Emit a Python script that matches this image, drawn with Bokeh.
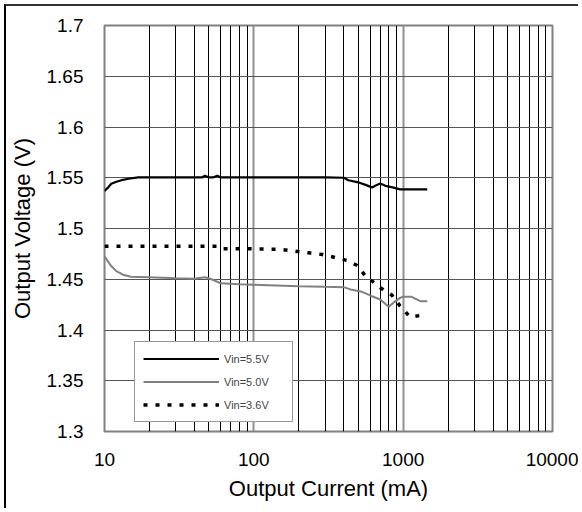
from bokeh.plotting import figure
from bokeh.models import FixedTicker, CustomJSTickFormatter, Legend, LegendItem, InlineStyleSheet
from bokeh.embed import file_html
from bokeh.resources import INLINE

# ---- data ----
i_55 = [10, 10.5, 11.1, 12, 13, 14.5, 16.8, 20, 30, 45, 47, 50, 53, 57, 60, 100, 200, 300, 400,
        430, 500, 560, 618, 660, 702, 760, 850, 955, 1100, 1300, 1450]
v_55 = [1.537, 1.540, 1.544, 1.546, 1.5476, 1.549, 1.5503, 1.5503, 1.5503, 1.5503, 1.552, 1.5503,
        1.5503, 1.552, 1.5503, 1.5503, 1.5503, 1.5503, 1.550, 1.5475, 1.5455, 1.543, 1.5405, 1.5425,
        1.5443, 1.542, 1.5405, 1.5385, 1.5385, 1.5385, 1.5385]

i_50 = [10, 10.5, 11.1, 12, 13.3, 15, 20, 30, 40, 47, 50, 55, 60, 80, 100, 200, 300, 400,
        443, 530, 618, 702, 800, 880, 955, 1000, 1140, 1300, 1450]
v_50 = [1.4727, 1.468, 1.463, 1.458, 1.4545, 1.4525, 1.452, 1.451, 1.4505, 1.452, 1.451, 1.4485,
        1.446, 1.445, 1.4445, 1.443, 1.4425, 1.4422, 1.440, 1.4376, 1.4333, 1.430, 1.4228, 1.428,
        1.4317, 1.4327, 1.4327, 1.4284, 1.4284]

i_36 = [10, 20, 40, 57, 60, 100, 150, 234, 287, 344, 421, 492, 571, 601, 702, 840, 955, 1115, 1300]
v_36 = [1.4826, 1.4826, 1.4826, 1.4826, 1.480, 1.480, 1.4795, 1.476, 1.4744, 1.4717, 1.4685, 1.4636,
        1.4514, 1.4498, 1.4416, 1.4344, 1.4235, 1.4126, 1.4143]

x_major = [10, 100, 1000, 10000]
x_minor = [m * d for d in (10, 100, 1000) for m in range(2, 10)]
y_ticks = [1.3, 1.35, 1.4, 1.45, 1.5, 1.55, 1.6, 1.65, 1.7]
series_labels = ["Vin=5.5V", "Vin=5.0V", "Vin=3.6V"]
x_title = "Output Current (mA)"
y_title = "Output Voltage (V)"

FONT = "Liberation Sans"

p = figure(width=574, height=504, x_axis_type="log", x_range=(10, 10000), y_range=(1.3, 1.7),
           output_backend="svg", toolbar_location=None,
           min_border_left=96, min_border_right=28, min_border_top=19, min_border_bottom=79)
p.stylesheets = [InlineStyleSheet(css=":host { margin-left: 4px; margin-top: 4px; "
                                      "border-left: 2px solid #000000; border-top: 2px solid #333333; }")]

p.background_fill_color = "white"
p.outline_line_color = "#808080"
p.outline_line_width = 2

# grids
p.xgrid.ticker = FixedTicker(ticks=x_major, minor_ticks=x_minor)
p.xgrid.grid_line_color = "#909090"
p.xgrid.grid_line_width = 2
p.xgrid.minor_grid_line_color = "#000000"
p.xgrid.minor_grid_line_width = 1
p.ygrid.ticker = FixedTicker(ticks=y_ticks)
p.ygrid.grid_line_color = "#555555"
p.ygrid.grid_line_width = 1

# axes
for ax in (p.xaxis[0], p.yaxis[0]):
    ax.axis_line_color = None
    ax.major_tick_line_color = None
    ax.minor_tick_line_color = None
    ax.major_label_text_font = FONT
    ax.major_label_text_font_size = "19px"
    ax.major_label_text_color = "#000000"
    ax.axis_label_text_font = FONT
    ax.axis_label_text_font_size = "22px"
    ax.axis_label_text_font_style = "normal"
    ax.axis_label_text_color = "#000000"

p.xaxis.ticker = FixedTicker(ticks=x_major)
p.xaxis.major_label_overrides = {t: str(t) for t in x_major}
p.xaxis.major_label_standoff = 15
p.xaxis.axis_label = x_title
p.xaxis.axis_label_standoff = 7

p.yaxis.ticker = FixedTicker(ticks=y_ticks)
p.yaxis.formatter = CustomJSTickFormatter(code="return String(Math.round(tick*100)/100);")
p.yaxis.major_label_standoff = 15
p.yaxis.axis_label = y_title
p.yaxis.axis_label_standoff = 9

r1 = p.line(i_55, v_55, line_color="#000000", line_width=2.2)
r2 = p.line(i_50, v_50, line_color="#808080", line_width=2)
r3 = p.line(i_36, v_36, line_color="#000000", line_width=3.5, line_dash="4 8")

legend = Legend(items=[LegendItem(label=series_labels[0], renderers=[r1]),
                       LegendItem(label=series_labels[1], renderers=[r2]),
                       LegendItem(label=series_labels[2], renderers=[r3])],
                location=(30, 9), orientation="vertical")
legend.label_text_font = FONT
legend.label_text_font_size = "11px"
legend.glyph_width = 76
legend.glyph_height = 17
legend.label_height = 17
legend.label_width = 60
legend.label_standoff = 5
legend.spacing = 6
legend.padding = 8
legend.margin = 0
legend.border_line_color = "#333333"
legend.border_line_width = 1
legend.background_fill_color = "white"
legend.background_fill_alpha = 1
p.add_layout(legend, "center")

open("out.html", "w").write(file_html(p, INLINE))
